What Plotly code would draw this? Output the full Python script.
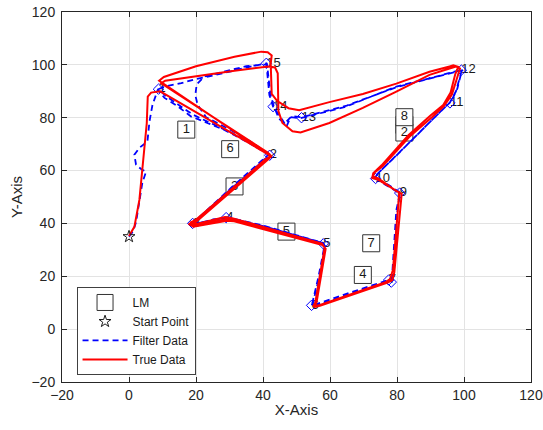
import plotly.graph_objects as go

# ---- Landmarks (boxes) ----
lm_x = [82.2, 17.1, 82.2, 31.5, 69.8, 47.0, 30.2, 72.3, 82.2]
lm_y = [77.3, 75.5, 74.4, 54.0, 20.5, 36.9, 68.1, 32.5, 80.2]
lm_labels = ["", "1", "2", "3", "4", "5", "6", "7", "8"]

# ---- Waypoints (diamonds) ----
wp_x = [8.8, 42.0, 19.0, 29.0, 58.0, 54.5, 77.5, 78.3, 80.8, 73.6, 95.8, 99.2, 51.5, 43.0, 41.0]
wp_y = [90.8, 65.8, 40.0, 42.2, 32.3, 9.0, 18.6, 17.8, 51.5, 57.0, 85.6, 98.0, 80.0, 84.2, 100.6]
wp_labels = ["1", "2", "3", "4", "5", "6", "7", "", "9", "10", "11", "12", "13", "14", "15"]

# ---- Start point ----
start_x = [0.0]
start_y = [35.0]

# ---- True data (red) ----
true_x = [0.0, 1.6, 3.1, 4.0, 5.3, 5.6, 6.6, 9.3,
          41.6, 42.3, 41.3, 19.8, 18.2, 19.6, 28.6, 30.8, 57.6, 58.4, 55.6, 55.0, 56.6, 76.6, 77.9, 78.8,
          80.6, 80.6, 79.6, 74.4, 72.8, 73.4, 75.7, 83.7, 90.6, 94.0, 96.4, 98.0, 98.8, 97.6,
          94.7, 89.7, 79.8, 69.8, 59.8, 51.2, 48.8, 45.8, 44.6, 44.4, 43.6, 41.5, 31.5, 20.5, 10.8, 9.6,
          41.4, 42.5, 41.5, 20.0, 18.4, 20.0, 28.8, 31.0, 57.8, 58.7, 56.0, 55.2, 57.0, 77.2, 78.6, 79.2,
          81.2, 81.4, 80.2, 74.6, 72.6, 72.9, 75.4, 83.4, 90.0, 93.8, 96.0, 97.4, 98.3, 96.8,
          95.7, 89.7, 79.8, 69.8, 59.8, 50.8, 47.6, 44.2, 42.6, 42.3, 42.6, 41.4, 39.5, 31.5, 20.0, 10.4, 9.0,
          41.8, 42.0, 40.8, 19.4, 17.8, 19.2, 29.2, 31.4, 57.2]
true_y = [35.2, 38.7, 48.9, 61.5, 77.9, 88.0, 89.5, 90.0,
          66.4, 65.6, 64.6, 41.2, 40.3, 39.6, 42.4, 42.0, 32.4, 30.8, 10.0, 8.7, 9.0, 17.8, 18.9, 22.5,
          50.4, 51.8, 52.4, 57.0, 57.8, 59.4, 61.6, 72.8, 80.4, 84.4, 88.8, 96.0, 98.6, 99.4,
          98.2, 96.2, 89.9, 83.7, 78.0, 74.4, 74.9, 78.0, 82.5, 96.8, 99.0, 99.4, 97.8, 95.9, 94.0, 93.0,
          66.8, 65.4, 64.2, 40.6, 39.4, 39.2, 41.6, 41.4, 31.8, 30.4, 10.2, 8.4, 8.8, 17.6, 18.6, 21.5,
          49.8, 51.2, 52.0, 56.4, 57.2, 59.0, 62.0, 73.4, 80.8, 84.8, 89.5, 96.5, 99.2, 99.8,
          99.4, 97.4, 92.9, 89.0, 85.9, 82.8, 83.6, 86.4, 89.0, 100.5, 103.6, 104.8, 105.0, 103.1, 99.5, 95.4, 94.0,
          66.0, 65.0, 64.4, 40.2, 39.8, 38.8, 41.0, 40.8, 32.0]

# ---- Filter data (blue dashed) ----
filt_x = [0.0, 1.2, 2.1, 3.1, 4.0, 5.1, 3.6, 2.1, 1.6, 3.1, 5.5, 6.1, 7.0, 8.6,
          10.6, 14.0, 18.6, 22.5, 28.5, 35.0, 41.8,
          30.5, 19.6, 18.8, 24.0, 29.0, 40.0, 50.0, 58.0, 58.6, 57.0, 54.8, 54.4, 66.0, 77.4, 78.5,
          79.0, 79.8, 80.9, 77.0, 73.8, 73.9, 80.0, 87.0, 93.6, 95.8, 97.6, 98.7, 99.4,
          90.0, 79.8, 64.8, 54.8, 51.2, 48.2, 47.0, 45.4, 43.0, 41.9, 41.3, 41.0,
          35.0, 28.0, 20.0, 15.6, 10.6, 8.8,
          11.0, 14.5, 19.0, 25.0, 33.0, 42.2,
          30.2, 19.2, 19.6, 25.0, 29.2, 40.5, 50.5, 58.2, 58.2, 56.6, 54.6, 55.2, 66.5, 77.8, 79.0,
          79.6, 80.2, 81.0, 77.4, 73.4, 74.2, 80.4, 87.4, 93.8, 96.2, 98.0, 99.0, 99.6,
          89.0, 79.5, 65.0, 55.0, 51.6, 48.6, 46.4, 44.8, 43.2, 42.2, 41.6, 41.2,
          35.0, 28.0, 22.5, 20.2, 19.8, 20.5, 23.0, 30.0, 36.0, 42.0,
          30.6, 19.4, 19.0, 24.5, 29.2, 40.0, 50.4, 57.8]
filt_y = [35.0, 37.0, 40.5, 49.0, 55.5, 59.6, 60.6, 62.2, 66.0, 68.6, 71.0, 78.5, 84.8, 90.6,
          87.5, 84.8, 80.4, 78.5, 75.4, 71.0, 66.2,
          53.5, 40.8, 39.8, 40.8, 42.4, 39.2, 35.4, 32.6, 31.0, 20.5, 9.6, 8.8, 13.8, 18.6, 19.5,
          30.0, 45.0, 51.3, 54.2, 56.8, 58.4, 66.0, 75.0, 83.0, 85.8, 90.0, 95.6, 98.2,
          95.0, 91.8, 84.2, 81.0, 79.8, 80.2, 76.6, 80.0, 84.2, 88.6, 95.0, 100.6,
          99.0, 96.8, 94.6, 93.1, 91.8, 90.8,
          88.2, 85.2, 81.2, 77.6, 72.8, 65.6,
          52.8, 40.2, 39.4, 41.5, 42.0, 38.8, 35.0, 32.2, 30.5, 20.0, 9.2, 8.6, 13.4, 18.2, 20.0,
          32.0, 46.0, 51.6, 54.6, 57.2, 58.8, 66.4, 75.4, 83.4, 86.2, 91.0, 96.0, 98.0,
          94.6, 91.4, 84.6, 81.4, 80.2, 80.6, 77.8, 79.6, 84.4, 89.0, 95.5, 100.2,
          99.5, 97.3, 95.6, 92.6, 88.5, 84.8, 80.2, 75.6, 71.2, 66.0,
          53.0, 40.4, 39.6, 41.2, 42.2, 39.0, 35.2, 32.6]

TXT = "#262626"
FONT = "Liberation Sans, Arial, sans-serif"

fig = go.Figure()

# Landmark boxes
fig.add_trace(go.Scatter(
    x=lm_x, y=lm_y, mode="markers", name="LM", legendrank=1,
    marker=dict(symbol="square", size=17, color="white", line=dict(color="#333333", width=1)),
    hoverinfo="skip"))
fig.add_trace(go.Scatter(
    x=lm_x, y=lm_y, mode="text", text=lm_labels, textposition="middle center",
    textfont=dict(size=13, color="#1a1a1a", family=FONT), showlegend=False, hoverinfo="skip"))

# Waypoint labels
fig.add_trace(go.Scatter(
    x=wp_x, y=wp_y, mode="text", text=wp_labels, textposition="middle right",
    textfont=dict(size=13, color="#1a1a1a", family=FONT), showlegend=False, hoverinfo="skip"))

# Waypoint diamonds
fig.add_trace(go.Scatter(
    x=wp_x, y=wp_y, mode="markers", showlegend=False,
    marker=dict(symbol="diamond-open", size=8, color="#0000ff", line=dict(width=1)),
    hoverinfo="skip"))

# Filter data
fig.add_trace(go.Scatter(
    x=filt_x, y=filt_y, mode="lines", name="Filter Data", legendrank=3,
    line=dict(color="#0000ff", width=1.8, dash="6px,4px")))

# True data
fig.add_trace(go.Scatter(
    x=true_x, y=true_y, mode="lines", name="True Data", legendrank=4,
    line=dict(color="#ff0000", width=2)))

# Start point
fig.add_trace(go.Scatter(
    x=start_x, y=start_y, mode="markers", name="Start Point", legendrank=2,
    marker=dict(symbol="star-open", size=9, color="#1a1a1a", line=dict(width=1))))

axis_common = dict(
    range=[-20, 120], dtick=20, tick0=-20, automargin=False,
    showgrid=True, gridcolor="#e3e3e3", gridwidth=1,
    zeroline=False, showline=True, linecolor=TXT, linewidth=1,
    mirror="ticks", ticks="inside", ticklen=5, tickcolor=TXT,
    tickfont=dict(size=14, color=TXT, family=FONT),
)

fig.update_layout(
    width=543, height=430,
    margin=dict(l=62, r=12, t=12, b=48),
    paper_bgcolor="white", plot_bgcolor="white",
    font=dict(family=FONT, color=TXT),
    xaxis=dict(axis_common, title=dict(text="X-Axis", font=dict(size=15, color=TXT), standoff=2)),
    yaxis=dict(axis_common, ticklabelstandoff=3,
               title=dict(text="Y-Axis", font=dict(size=15, color=TXT), standoff=5)),
    legend=dict(
        x=0.031, y=0.019, xanchor="left", yanchor="bottom",
        bgcolor="white", bordercolor="#404040", borderwidth=1,
        font=dict(size=12, color="#1a1a1a", family=FONT),
        itemwidth=45, tracegroupgap=0,
    ),
    showlegend=True,
)

# remove the default page margin so the figure sits at the window's top-left corner
fig.write_html("out.html", config={"displayModeBar": False},
               post_script="document.body.style.margin='0';document.body.style.overflow='hidden';")
